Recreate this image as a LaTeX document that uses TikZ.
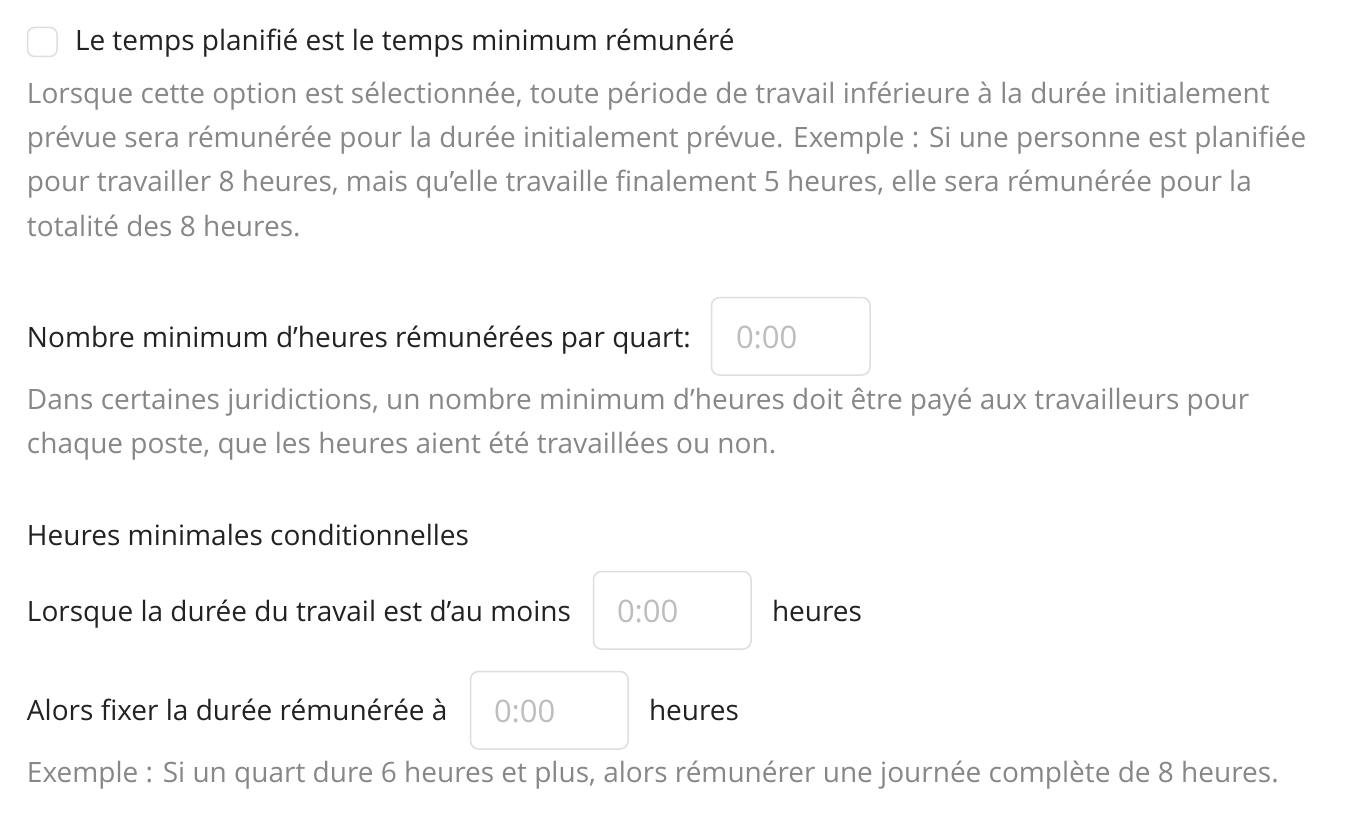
\documentclass[tikz,border=0pt]{standalone}
\usepackage{fontspec}
\setmainfont{Open Sans}
\definecolor{txtdark}{HTML}{222222}
\definecolor{txtgray}{HTML}{878787}
\definecolor{phgray}{HTML}{BDBDBD}
\definecolor{boxline}{HTML}{DEDEDE}
\begin{document}
\begin{tikzpicture}[x=1pt,y=-1pt,
  every node/.style={inner sep=0pt,outer sep=0pt,anchor=base west,font=\fontsize{28}{44}\selectfont},
  label/.style={text=txtdark},
  desc/.style={text=txtgray},
  ph/.style={text=phgray,font=\fontsize{31}{40}\selectfont},
  inbox/.style={draw=boxline,line width=1.5pt,rounded corners=8pt,fill=white},
  chk/.style={draw=boxline,line width=1.5pt,rounded corners=7pt,fill=white}]
\useasboundingbox[fill=white] (0,0) rectangle (1366,824);
% checkbox
\draw[chk] (27.5,27.5) rectangle (57,56.5);
\node[label] (t1) at (75,51) {Le temps planifié est le temps minimum rémunéré};
\node[desc] (d1) at (27,104) {Lorsque cette option est sélectionnée, toute période de travail inférieure à la durée initialement};
\node[desc] (d2) at (27,148) {prévue sera rémunérée pour la durée initialement prévue. Exemple : Si une personne est planifiée};
\node[desc] (d3) at (27,192) {pour travailler 8 heures, mais qu’elle travaille finalement 5 heures, elle sera rémunérée pour la};
\node[desc] (d4) at (27,236) {totalité des 8 heures.};
% min hours
\node[label] (t2) at (27,347) {Nombre minimum d’heures rémunérées par quart:};
\draw[inbox] (711.5,297.5) rectangle (870,375);
\node[ph] (p1) at (736,348) {0:00};
\node[desc] (d5) at (27,409) {Dans certaines juridictions, un nombre minimum d’heures doit être payé aux travailleurs pour};
\node[desc] (d6) at (27,453) {chaque poste, que les heures aient été travaillées ou non.};
% conditional
\node[label] (t3) at (27,545) {Heures minimales conditionnelles};
\node[label] (t4) at (27,621) {Lorsque la durée du travail est d’au moins};
\draw[inbox] (593.5,571.5) rectangle (751,649);
\node[ph] (p2) at (617,622) {0:00};
\node[label] (h1) at (772,621) {heures};
\node[label] (t5) at (27,720) {Alors fixer la durée rémunérée à};
\draw[inbox] (470.5,671.5) rectangle (628,749);
\node[ph] (p3) at (494,722) {0:00};
\node[label] (h2) at (649,720) {heures};
\node[desc] (d7) at (27,782) {Exemple : Si un quart dure 6 heures et plus, alors rémunérer une journée complète de 8 heures.};
\end{tikzpicture}
\end{document}
